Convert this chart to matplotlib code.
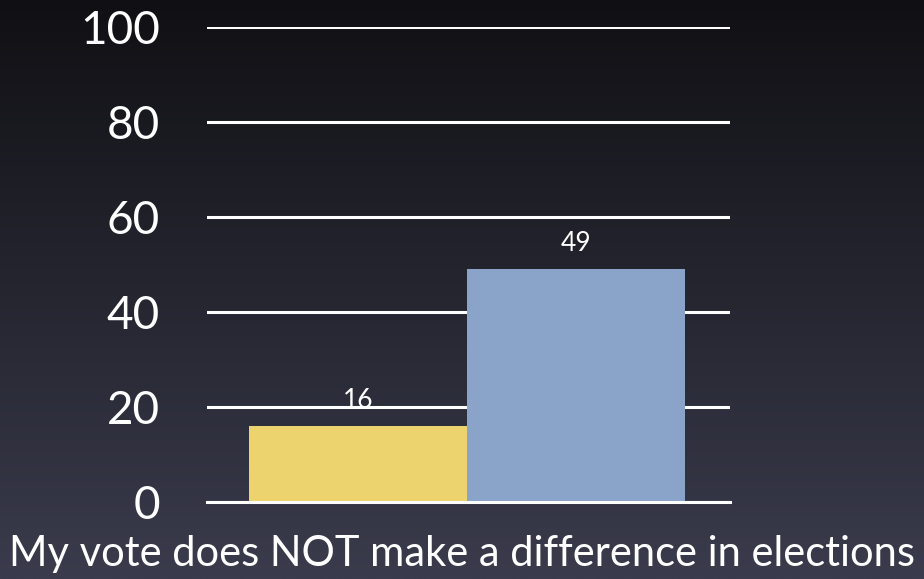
import numpy as np
import matplotlib.pyplot as plt

# data
categories = ["A", "B"]
values = [16, 49]
bar_colors = ["#EDD36E", "#8AA3C9"]
yticks = [0, 20, 40, 60, 80, 100]
xlabel = "My vote does NOT make a difference in elections"

plt.rcParams['font.family'] = ['Lato', 'DejaVu Sans']

fig = plt.figure(figsize=(9.24, 5.79), dpi=100)

# dark gradient background, nearly black at top, slate at bottom
bg = fig.add_axes([0, 0, 1, 1], zorder=-10)
top = np.array([16, 16, 20]) / 255
bottom = np.array([58, 59, 76]) / 255
t = np.linspace(0, 1, 256)[:, None]
grad = top[None, :] * (1 - t) + bottom[None, :] * t
bg.imshow(grad[:, None, :].repeat(2, axis=1), aspect='auto', extent=[0, 1, 0, 1])
bg.axis('off')

ax = fig.add_axes([207 / 924, (579 - 502) / 579, (730 - 207) / 924, (502 - 27) / 579])
ax.set_facecolor('none')

x = np.arange(len(values))
bars = ax.bar(x, values, width=1.0, align='edge', color=bar_colors, zorder=3)
for xi, v in zip(x, values):
    ax.text(xi + 0.5, v + 3.8, str(v), ha='center', va='baseline',
            color='white', fontsize=19, zorder=4)

ax.set_xlim(-0.193, 2.206)
ax.set_ylim(0, 100)
ax.set_yticks(yticks)
ax.set_xticks([])
ax.yaxis.grid(True, color='white', lw=2.2, zorder=1)
ax.set_axisbelow(True)
ax.axhline(0, color='white', lw=2.2, zorder=5, clip_on=False)
for s in ax.spines.values():
    s.set_visible(False)
ax.tick_params(axis='y', length=0, pad=34, labelsize=33, labelcolor='white')

fig.text(0.5, (579 - 566) / 579, xlabel, ha='center', va='baseline',
         color='white', fontsize=30)

fig.savefig("out.png", dpi=100)
